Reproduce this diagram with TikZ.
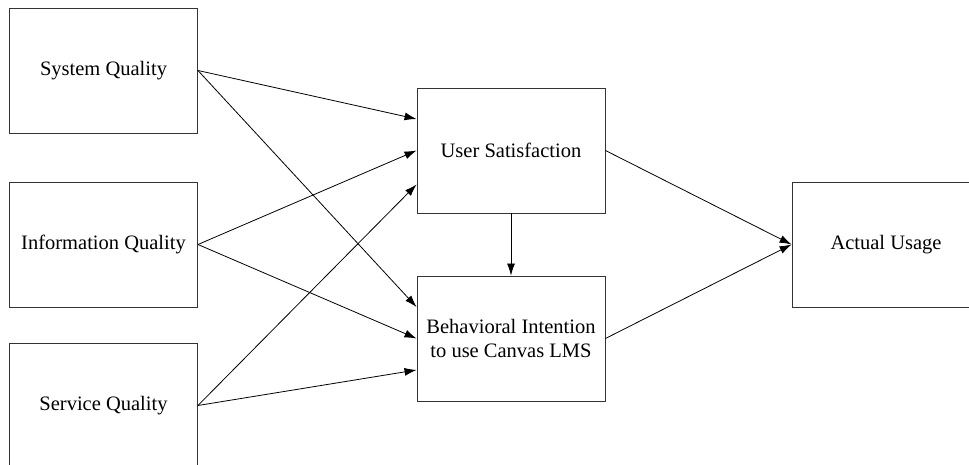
\documentclass[tikz,border=0pt]{standalone}
\usepackage{fontspec}
\setmainfont{Liberation Serif}
\usetikzlibrary{calc,arrows.meta}
\tikzset{
	factor/.style={draw=black!80, line width=0.9pt, minimum width=188pt, minimum height=125pt, align=center, inner sep=0pt, font=\fontsize{20.5}{24}\selectfont},
	path/.style={line width=0.8pt, -{Latex[length=12pt,width=8pt]}}
}

\begin{document}
\begin{tikzpicture}[x=1pt, y=1pt]
			%%%%% START %%%%%
			\useasboundingbox (0, 0) rectangle (969, 465);
			\clip (0, 0) rectangle (969, 465);
			
			\node[factor] (sysq) at (103.5, 394.5) {System Quality};
			\node[factor] (infq) at (103.5, 220.5) {Information Quality};
			\node[factor] (servq) at (103.5, 59.5) {Service Quality};
			
			\node[factor] (usat) at (511, 314.5) {User Satisfaction};
			\node[factor] (bint) at (511, 126.5) {Behavioral Intention\\to use Canvas LMS};
			
			\node[factor] (ausage) at (886, 220.5) {Actual Usage};
			
			\draw[path] (sysq.east) -- ($(usat.north west)!0.25!(usat.south west)$);
			\draw[path] (sysq.east) -- ($(bint.north west)!0.25!(bint.south west)$);
			\draw[path] (infq.east) -- (usat.west);
			\draw[path] (infq.east) -- (bint.west);
			\draw[path] (servq.east) -- ($(usat.north west)!0.77!(usat.south west)$);
			\draw[path] (servq.east) -- ($(bint.north west)!0.75!(bint.south west)$);
			
			\draw[path] (usat.south) -- (bint.north);
			
			\draw[path] (usat.east) -- (ausage.west);
			\draw[path] (bint.east) -- (ausage.west);
			
			%%%%% END %%%%%
		\end{tikzpicture}
\end{document}
